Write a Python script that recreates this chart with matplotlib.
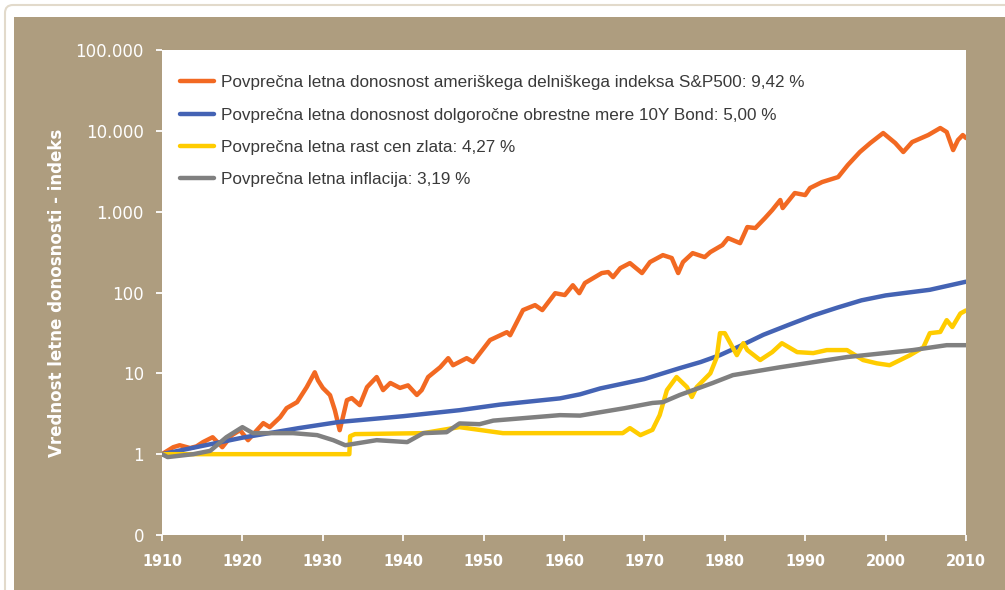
import matplotlib.pyplot as plt
from matplotlib.patches import FancyBboxPatch, Rectangle
from matplotlib.ticker import FixedLocator, NullLocator

# S&P500 index (start 1910 = 1)
sp_years = [1910.0, 1911.4, 1912.2, 1913.5, 1914.3, 1915.1, 1916.3, 1917.5, 1918.7, 1919.7,
            1920.7, 1921.8, 1922.6, 1923.4, 1924.7, 1925.5, 1926.8, 1928.0, 1929.0, 1929.4,
            1930.0, 1930.9, 1931.5, 1932.1, 1932.5, 1933.0, 1933.6, 1934.6, 1935.5, 1936.7,
            1937.5, 1938.4, 1939.6, 1940.6, 1941.7, 1942.3, 1943.1, 1944.6, 1945.6, 1946.2,
            1947.9, 1948.7, 1950.8, 1952.9, 1953.3, 1954.9, 1956.4, 1957.3, 1958.9, 1960.1,
            1961.1, 1961.9, 1962.6, 1964.7, 1965.5, 1966.1, 1967.0, 1968.2, 1969.7, 1970.7,
            1972.3, 1973.4, 1974.2, 1974.8, 1976.0, 1977.5, 1978.2, 1979.7, 1980.4, 1981.9,
            1982.8, 1983.8, 1985.0, 1985.9, 1986.9, 1987.2, 1988.7, 1990.0, 1990.6, 1992.1,
            1994.1, 1995.3, 1996.8, 1998.1, 1999.7, 2001.2, 2002.2, 2003.3, 2005.3, 2006.8,
            2007.6, 2008.4, 2009.0, 2009.6, 2010.0]
sp_values = [1.0, 1.22, 1.29, 1.19, 1.25, 1.41, 1.62, 1.22, 1.72, 1.98,
             1.49, 1.98, 2.42, 2.16, 2.87, 3.71, 4.40, 6.75, 10.3, 8.2,
             6.6, 5.37, 3.5, 1.98, 2.87, 4.66, 4.94, 4.04, 6.75, 9.0,
             6.2, 7.6, 6.6, 7.1, 5.4, 6.2, 9.0, 11.9, 15.4, 12.6,
             15.4, 13.8, 25.8, 32.3, 29.6, 60.6, 69.8, 60.6, 98, 93,
             123, 98, 131, 174, 179, 155, 200, 231, 174, 238,
             290, 267, 174, 238, 307, 274, 316, 386, 471, 408,
             645, 627, 834, 1047, 1393, 1109, 1700, 1604, 1960, 2324,
             2680, 3775, 5470, 7065, 9390, 7065, 5470, 7260, 8870, 10835,
             9660, 5780, 7690, 8870, 8140]

# 10Y bond
bond_years = [1910, 1920, 1927, 1932, 1940, 1947, 1952, 1959.5, 1962, 1964.5, 1970,
              1974.4, 1977, 1979.4, 1982, 1984.8, 1988, 1991, 1994, 1997, 2000,
              2005.5, 2010]
bond_values = [1.0, 1.6, 2.1, 2.5, 2.95, 3.5, 4.1, 4.9, 5.5, 6.5, 8.5,
               11.6, 13.8, 16.8, 22, 30, 40, 52, 65, 80, 92,
               108, 136]

# gold
gold_years = [1910, 1933.3, 1933.4, 1934, 1942.5, 1946.2, 1947, 1952.4, 1959.5, 1967.3,
              1968.2, 1969.5, 1971, 1971.9, 1972.8, 1974, 1975.3, 1975.9, 1976.5, 1978.2,
              1979, 1979.4, 1980, 1981.5, 1982.3, 1982.8, 1984.4, 1985.9, 1987.1, 1989,
              1991, 1992.7, 1995.2, 1997.2, 1998.9, 2000.5, 2003, 2004.7, 2005.5, 2006.8,
              2007.6, 2008.3, 2009.3, 2010]
gold_values = [1.0, 1.0, 1.67, 1.77, 1.82, 2.1, 2.16, 1.82, 1.82, 1.82,
               2.1, 1.72, 2.0, 3.04, 6.2, 9.0, 6.75, 5.1, 6.75, 10,
               15.8, 31.4, 31.4, 16.8, 23.6, 19.4, 14.6, 18.3, 23.6, 18.3,
               17.8, 19.4, 19.4, 14.6, 13.3, 12.6, 16.7, 21, 31.4, 32.5,
               45.5, 37.4, 55, 60]

# inflation
cpi_years = [1910, 1910.7, 1913.9, 1916, 1918, 1920, 1921.3, 1926.3, 1929.3, 1931.3,
             1932.8, 1936.7, 1940.5, 1942.5, 1945.4, 1947, 1949.5, 1951.2, 1959.5, 1962,
             1967.5, 1971, 1972.3, 1974.4, 1978.5, 1981, 1986.9, 1995.2, 2003.4, 2007.6, 2010]
cpi_values = [1.0, 0.92, 1.0, 1.1, 1.62, 2.16, 1.82, 1.82, 1.72, 1.49,
              1.29, 1.49, 1.41, 1.82, 1.87, 2.4, 2.35, 2.6, 3.04, 3.0,
              3.7, 4.3, 4.4, 5.4, 7.6, 9.5, 11.9, 15.9, 19.4, 22.3, 22.3]

labels = ['Povprečna letna donosnost ameriškega delniškega indeksa S&P500: 9,42 %',
          'Povprečna letna donosnost dolgoročne obrestne mere 10Y Bond: 5,00 %',
          'Povprečna letna rast cen zlata: 4,27 %',
          'Povprečna letna inflacija: 3,19 %']
colors = ['#F26922', '#4463B4', '#FFCC00', '#808080']

y_ticks = [0.1, 1, 10, 100, 1000, 10000, 100000]
y_ticklabels = ['0', '1', '10', '100', '1.000', '10.000', '100.000']
x_ticks = list(range(1910, 2011, 10))

tan = '#AE9D7F'

fig = plt.figure(figsize=(10.05, 5.9), dpi=100, facecolor='white')

# frame + tan background (pixel units via inches / 100)
fig.patches.append(FancyBboxPatch((0.05, -0.5), 11, 6.35, boxstyle='round,pad=0,rounding_size=0.08',
                                  transform=fig.dpi_scale_trans, facecolor='white',
                                  edgecolor='#E2DACB', linewidth=1.5, zorder=-3))
fig.patches.append(Rectangle((0.14, -0.5), 11, 6.23, transform=fig.dpi_scale_trans,
                             facecolor=tan, edgecolor='none', zorder=-2))

ax = fig.add_axes([162 / 1005, 1 - 535 / 590, 804 / 1005, 485 / 590])
ax.set_facecolor('white')

series = [(sp_years, sp_values), (bond_years, bond_values),
          (gold_years, gold_values), (cpi_years, cpi_values)]
for (xs, ys), c, lab in zip(series, colors, labels):
    ax.plot(xs, ys, color=c, lw=3.2, label=lab, solid_capstyle='round',
            solid_joinstyle='round')

ax.set_yscale('log')
ax.set_ylim(0.1, 100000)
ax.set_xlim(1910, 2010)
ax.yaxis.set_major_locator(FixedLocator(y_ticks))
ax.yaxis.set_minor_locator(NullLocator())
ax.set_yticks(y_ticks)
ax.set_yticklabels(y_ticklabels)
ax.set_xticks(x_ticks)
ax.set_xticklabels([str(x) for x in x_ticks])

for s in ax.spines.values():
    s.set_visible(False)

ax.tick_params(axis='y', colors='white', length=4, width=1.3, pad=9, labelsize=12)
ax.tick_params(axis='x', colors='white', length=4, width=1.3, pad=10, labelsize=11.5)
for t in ax.get_yticklabels():
    t.set_fontweight('medium')
for t in ax.get_xticklabels():
    t.set_family('DejaVu Sans')
    t.set_fontstretch('condensed')
    t.set_fontweight('bold')

ax.set_ylabel('Vrednost letne donosnosti - indeks', color='white', fontsize=12,
              fontweight='bold')
ax.yaxis.set_label_coords(-0.12, 0.5)

leg = ax.legend(loc='upper left', frameon=False, handlelength=2.0,
                handletextpad=0.4, labelspacing=1.02, bbox_to_anchor=(0.003, 0.98),
                prop={'family': 'Liberation Sans', 'size': 12.3})
for t in leg.get_texts():
    t.set_color('#3A3A3A')

fig.savefig('out.png', dpi=100, facecolor=fig.get_facecolor())
